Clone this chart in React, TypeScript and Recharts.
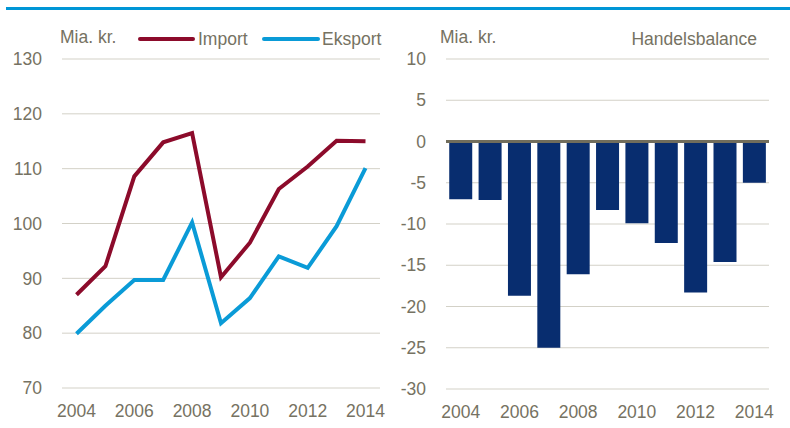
import React from 'react';
import { LineChart, Line, BarChart, Bar, XAxis, YAxis, CartesianGrid, ReferenceLine, Legend } from 'recharts';

const years = ['2004', '2005', '2006', '2007', '2008', '2009', '2010', '2011', '2012', '2013', '2014'];
const importValues = [87.0, 92.2, 108.6, 114.8, 116.5, 90.2, 96.5, 106.3, 110.4, 115.1, 115.0];
const eksportValues = [79.9, 85.0, 89.7, 89.7, 100.2, 81.8, 86.4, 94.0, 91.9, 99.5, 110.1];
const balanceValues = [-7.0, -7.1, -18.7, -25.0, -16.1, -8.3, -9.9, -12.3, -18.3, -14.6, -5.0];
const xTicks = ['2004', '2006', '2008', '2010', '2012', '2014'];
const leftYTicks = [70, 80, 90, 100, 110, 120, 130];
const rightYTicks = [-30, -25, -20, -15, -10, -5, 0, 5, 10];

const lineData = years.map((y, i) => ({ year: y, Import: importValues[i], Eksport: eksportValues[i] }));
const barData = years.map((y, i) => ({ year: y, Handelsbalance: balanceValues[i] }));

const FONT = '"Liberation Sans", Arial, sans-serif';
const FS = 17.5;
const TEXT = '#767262';
const GRID = '#D3D1C7';
const IMPORT_COLOR = '#8C0B2B';
const EKSPORT_COLOR = '#0A9BD7';
const BAR_COLOR = '#082D6F';

const tickStyle = { fill: TEXT, fontSize: FS, fontFamily: FONT };

const renderLegend = () => (
  <svg width={260} height={30} style={{ display: 'block' }}>
    <line x1={5} x2={58} y1={15} y2={15} stroke={IMPORT_COLOR} strokeWidth={4} strokeLinecap="round" />
    <text x={63} y={21} fill={TEXT} fontSize={FS} fontFamily={FONT}>Import</text>
    <line x1={129} x2={183} y1={15} y2={15} stroke={EKSPORT_COLOR} strokeWidth={4} strokeLinecap="round" />
    <text x={187} y={21} fill={TEXT} fontSize={FS} fontFamily={FONT}>Eksport</text>
  </svg>
);

const labelStyle: React.CSSProperties = {
  position: 'absolute',
  fontFamily: FONT,
  fontSize: FS,
  lineHeight: '18px',
  color: TEXT,
  whiteSpace: 'nowrap',
};

export default function App() {
  return (
    <div style={{ position: 'absolute', left: 0, top: 0, width: 790, height: 428, background: '#fff', overflow: 'hidden' }}>
      <div style={{ position: 'absolute', left: 6, top: 7, width: 784, height: 3, background: '#0096D6' }} />
      <div style={{ position: 'absolute', left: 0, top: 0 }}>
        <LineChart width={400} height={428} data={lineData} margin={{ top: 59, right: 20, bottom: 0, left: 0 }}>
          <CartesianGrid vertical={false} stroke={GRID} strokeWidth={1} />
          <XAxis
            dataKey="year"
            ticks={xTicks}
            interval={0}
            padding={{ left: 14.5, right: 14.5 }}
            axisLine={false}
            tickLine={false}
            tickSize={6}
            tickMargin={11}
            height={40}
            tick={tickStyle}
          />
          <YAxis
            domain={[70, 130]}
            ticks={leftYTicks}
            interval={0}
            axisLine={false}
            tickLine={false}
            tickSize={6}
            tickMargin={14}
            width={62}
            tick={tickStyle}
          />
          <Legend
            layout="horizontal"
            verticalAlign="middle"
            align="center"
            content={renderLegend}
            wrapperStyle={{ position: 'absolute', left: 135, top: 24, width: 260, height: 30 }}
          />
          <Line type="linear" dataKey="Import" stroke={IMPORT_COLOR} strokeWidth={4} dot={false} isAnimationActive={false} />
          <Line type="linear" dataKey="Eksport" stroke={EKSPORT_COLOR} strokeWidth={4} dot={false} isAnimationActive={false} />
        </LineChart>
      </div>
      <div style={{ position: 'absolute', left: 395, top: 0 }}>
        <BarChart width={395} height={428} data={barData} margin={{ top: 59, right: 21, bottom: 0, left: 0 }} barCategoryGap="11%">
          <CartesianGrid vertical={false} stroke={GRID} strokeWidth={1} />
          <XAxis
            dataKey="year"
            ticks={xTicks}
            interval={0}
            axisLine={false}
            tickLine={false}
            tickSize={6}
            tickMargin={11}
            height={39}
            tick={tickStyle}
          />
          <YAxis
            domain={[-30, 10]}
            ticks={rightYTicks}
            interval={0}
            axisLine={false}
            tickLine={false}
            tickSize={6}
            tickMargin={14}
            width={51}
            tick={tickStyle}
          />
          <Bar dataKey="Handelsbalance" fill={BAR_COLOR} isAnimationActive={false} />
          <ReferenceLine y={0} stroke="#716D5C" strokeWidth={3} />
        </BarChart>
      </div>
      <div style={{ ...labelStyle, left: 60, top: 28 }}>Mia. kr.</div>
      <div style={{ ...labelStyle, left: 440, top: 28 }}>Mia. kr.</div>
      <div style={{ ...labelStyle, right: 33, top: 30 }}>Handelsbalance</div>
    </div>
  );
}
